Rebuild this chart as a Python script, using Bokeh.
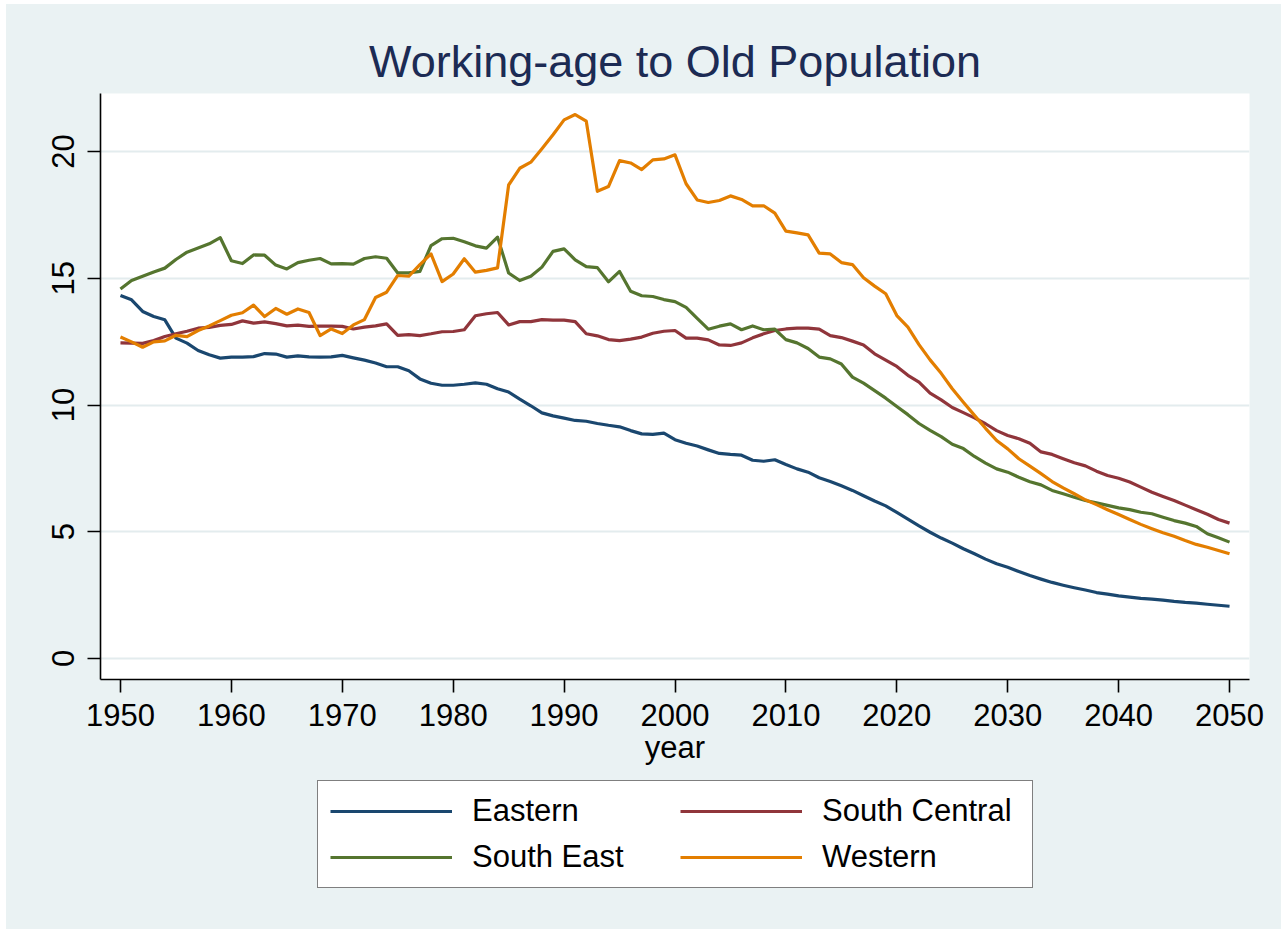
from bokeh.plotting import figure
from bokeh.models import Legend, LegendItem, FixedTicker, Range1d
from bokeh.layouts import column
from bokeh.embed import file_html
from bokeh.resources import INLINE

years = list(range(1950, 2051))

eastern = [14.32, 14.15, 13.69, 13.49, 13.36, 12.64, 12.44, 12.15, 11.98, 11.85,
           11.89, 11.89, 11.91, 12.03, 12.01, 11.89, 11.94, 11.90, 11.89, 11.90,
           11.96, 11.86, 11.77, 11.66, 11.51, 11.51, 11.35, 11.03, 10.86, 10.78,
           10.78, 10.82, 10.87, 10.82, 10.64, 10.51, 10.23, 9.97, 9.69, 9.57,
           9.48, 9.39, 9.36, 9.27, 9.20, 9.14, 8.99, 8.86, 8.84, 8.89,
           8.63, 8.49, 8.38, 8.23, 8.09, 8.05, 8.02, 7.82, 7.78, 7.84,
           7.65, 7.48, 7.35, 7.13, 6.98, 6.81, 6.63, 6.42, 6.21, 6.02,
           5.76, 5.50, 5.23, 4.98, 4.75, 4.55, 4.33, 4.13, 3.92, 3.74,
           3.60, 3.43, 3.27, 3.13, 3.00, 2.89, 2.79, 2.70, 2.60, 2.54,
           2.47, 2.42, 2.37, 2.34, 2.30, 2.25, 2.21, 2.18, 2.14, 2.10, 2.06]

south_central = [12.45, 12.44, 12.43, 12.54, 12.70, 12.81, 12.91, 13.03, 13.06, 13.14,
                 13.18, 13.32, 13.23, 13.28, 13.21, 13.12, 13.15, 13.10, 13.11, 13.11,
                 13.10, 13.00, 13.07, 13.12, 13.20, 12.75, 12.78, 12.74, 12.81, 12.89,
                 12.90, 12.97, 13.52, 13.60, 13.65, 13.16, 13.29, 13.29, 13.37, 13.35,
                 13.35, 13.29, 12.81, 12.73, 12.58, 12.54, 12.60, 12.68, 12.83, 12.91,
                 12.94, 12.64, 12.64, 12.57, 12.37, 12.35, 12.45, 12.65, 12.81, 12.94,
                 13.00, 13.03, 13.03, 12.99, 12.74, 12.66, 12.52, 12.37, 12.02, 11.77,
                 11.52, 11.17, 10.90, 10.47, 10.20, 9.90, 9.70, 9.49, 9.26, 8.99,
                 8.80, 8.67, 8.49, 8.15, 8.05, 7.88, 7.72, 7.60, 7.39, 7.22,
                 7.11, 6.96, 6.76, 6.56, 6.39, 6.23, 6.05, 5.87, 5.69, 5.48, 5.34]

south_east = [14.58, 14.91, 15.08, 15.25, 15.40, 15.74, 16.03, 16.19, 16.36, 16.60,
              15.69, 15.58, 15.92, 15.91, 15.52, 15.37, 15.62, 15.71, 15.78, 15.57,
              15.58, 15.56, 15.78, 15.85, 15.79, 15.21, 15.21, 15.27, 16.29, 16.56,
              16.58, 16.44, 16.28, 16.19, 16.62, 15.21, 14.91, 15.08, 15.44, 16.06,
              16.16, 15.73, 15.46, 15.42, 14.86, 15.27, 14.49, 14.31, 14.28, 14.16,
              14.08, 13.85, 13.42, 12.99, 13.11, 13.20, 12.97, 13.12, 12.97, 12.99,
              12.58, 12.45, 12.23, 11.89, 11.82, 11.62, 11.10, 10.86, 10.57, 10.27,
              9.94, 9.62, 9.27, 9.00, 8.75, 8.45, 8.28, 7.97, 7.71, 7.48,
              7.35, 7.15, 6.97, 6.85, 6.63, 6.50, 6.36, 6.23, 6.14, 6.04,
              5.94, 5.87, 5.77, 5.71, 5.57, 5.44, 5.34, 5.21, 4.92, 4.76, 4.59]

western = [12.68, 12.49, 12.28, 12.49, 12.53, 12.75, 12.70, 12.94, 13.12, 13.33,
           13.54, 13.64, 13.94, 13.49, 13.81, 13.58, 13.79, 13.65, 12.74, 13.00,
           12.82, 13.16, 13.37, 14.24, 14.45, 15.11, 15.08, 15.54, 15.96, 14.87,
           15.17, 15.77, 15.24, 15.31, 15.41, 18.68, 19.34, 19.58, 20.11, 20.66,
           21.25, 21.46, 21.20, 18.43, 18.62, 19.64, 19.55, 19.29, 19.67, 19.71,
           19.87, 18.73, 18.09, 17.99, 18.07, 18.25, 18.11, 17.86, 17.86, 17.57,
           16.86, 16.79, 16.71, 15.99, 15.96, 15.62, 15.54, 15.02, 14.69, 14.39,
           13.53, 13.07, 12.38, 11.78, 11.25, 10.64, 10.11, 9.59, 9.08, 8.60,
           8.27, 7.88, 7.59, 7.29, 6.98, 6.73, 6.50, 6.26, 6.07, 5.87,
           5.68, 5.48, 5.29, 5.12, 4.96, 4.82, 4.65, 4.50, 4.39, 4.26, 4.13]

series_names = ["Eastern", "South Central", "South East", "Western"]
series_values = [eastern, south_central, south_east, western]
series_colors = ["#1A476F", "#90353B", "#55752F", "#E37E00"]

x_ticks = [1950, 1960, 1970, 1980, 1990, 2000, 2010, 2020, 2030, 2040, 2050]
y_ticks = [0, 5, 10, 15, 20]

BG = "#EAF2F3"
FONT = "Liberation Sans"

# ---------------- main chart ----------------
p = figure(width=1275, height=776, output_backend="svg", toolbar_location=None,
           x_range=Range1d(1948.2, 2051.8), y_range=Range1d(-0.83, 22.29),
           min_border_left=94, min_border_right=32, min_border_top=89, min_border_bottom=101,
           title="Working-age to Old Population")

p.background_fill_color = "white"
p.border_fill_color = BG
p.outline_line_color = None

p.title.align = "center"
p.title.text_font = FONT
p.title.text_font_size = "45px"
p.title.text_font_style = "normal"
p.title.text_color = "#1C2B54"
p.title.standoff = 14

for name, vals, col in zip(series_names, series_values, series_colors):
    p.line(years, vals, line_color=col, line_width=3.2, line_join="round")

p.xaxis.ticker = FixedTicker(ticks=x_ticks)
p.yaxis.ticker = FixedTicker(ticks=y_ticks)
for ax in (p.xaxis[0], p.yaxis[0]):
    ax.axis_line_color = "black"
    ax.axis_line_width = 1.6
    ax.major_tick_line_color = "black"
    ax.major_tick_line_width = 1.6
    ax.major_tick_in = 0
    ax.major_tick_out = 13
    ax.minor_tick_line_color = None
    ax.major_label_text_font = FONT
    ax.major_label_text_font_size = "31px"
    ax.major_label_text_color = "black"
    ax.axis_label_text_font = FONT
    ax.axis_label_text_font_size = "31px"
    ax.axis_label_text_font_style = "normal"
    ax.axis_label_text_color = "black"

p.xaxis.axis_label = "year"
p.xaxis.major_label_standoff = 11
p.xaxis.axis_label_standoff = 1
p.yaxis.major_label_orientation = "vertical"
p.yaxis.major_label_standoff = 13

p.xgrid.grid_line_color = None
p.ygrid.grid_line_color = "#E3ECEE"
p.ygrid.grid_line_width = 2.2

# ---------------- legend strip (same series, kept outside its visible range) ----------------
p2 = figure(width=1275, height=149, output_backend="svg", toolbar_location=None,
            x_range=Range1d(0, 1), y_range=Range1d(0, 1),
            x_axis_location=None, y_axis_location=None,
            min_border_left=0, min_border_right=0, min_border_top=0, min_border_bottom=0)
p2.background_fill_color = BG
p2.border_fill_color = BG
p2.outline_line_color = None
p2.grid.visible = False

items = []
for name, vals, col in zip(series_names, series_values, series_colors):
    r = p2.line(years, vals, line_color=col, line_width=3.2)
    items.append(LegendItem(label=name, renderers=[r]))

legend = Legend(items=items, location=(217, 41), orientation="horizontal", ncols=2,
                label_text_font=FONT, label_text_font_size="31px", label_text_color="black",
                glyph_width=122, glyph_height=36, label_height=36, label_width=198,
                label_standoff=20, spacing=10, padding=12, margin=0,
                border_line_color="black", border_line_width=1.5,
                background_fill_color="white", background_fill_alpha=1.0)
p2.add_layout(legend, "center")

layout = column(p, p2, spacing=0, margin=(4, 0, 0, 6), background=BG)
open("out.html", "w").write(file_html(layout, INLINE))
